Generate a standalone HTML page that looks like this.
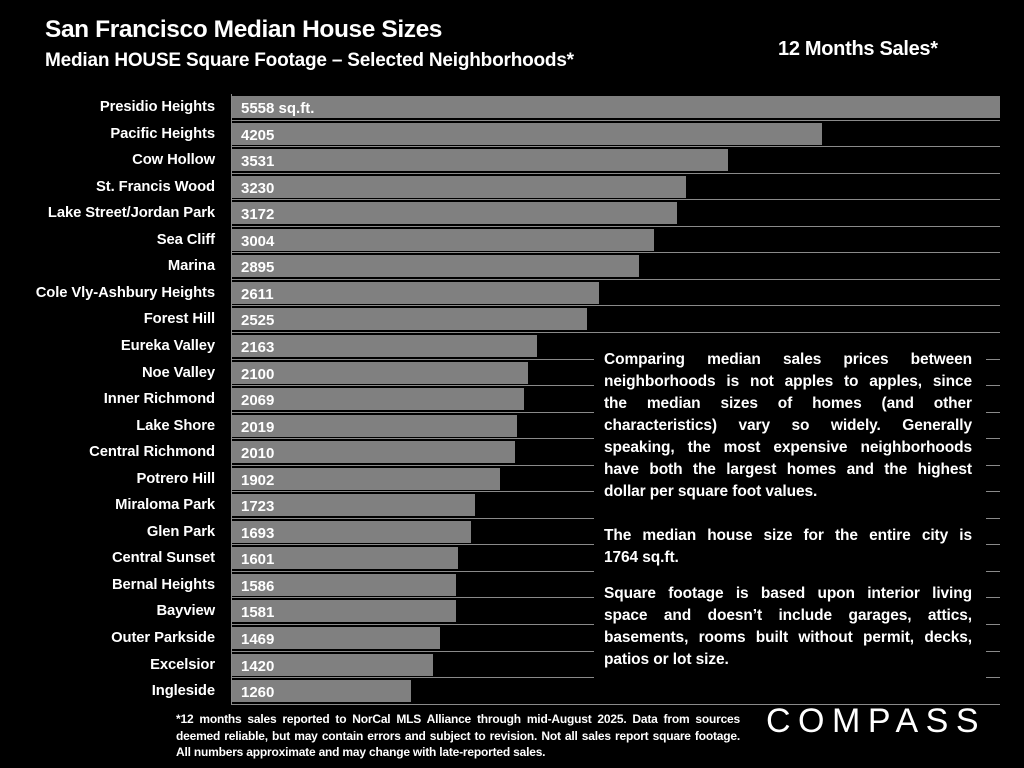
<!DOCTYPE html>
<html><head><meta charset="utf-8">
<style>
body{margin:0;background:#000;width:1024px;height:768px;overflow:hidden;font-family:"Liberation Sans",Arial,sans-serif;color:#fff;font-weight:bold}
#wrap{position:relative;width:1024px;height:768px}
.t{position:absolute;white-space:nowrap}
.lab{position:absolute;right:809px;font-size:14.8px;letter-spacing:-0.1px;white-space:nowrap}
.bar{position:absolute;background:#808080}
.val{position:absolute;font-size:15px;white-space:nowrap}
.grid{position:absolute;left:231px;width:769px;height:1px;background:#8a8a8a}
#note{position:absolute;left:594px;top:345px;width:392px;height:336px;background:#000}
.ln{position:absolute;left:10px;width:368px;font-size:15.5px;letter-spacing:-0.1px;text-align:justify;text-align-last:justify;white-space:nowrap;height:20px}
.ln.l{text-align-last:left}
</style></head><body>
<div id="wrap">
<div class="t" style="left:45px;top:16px;font-size:24.5px;letter-spacing:-0.4px">San Francisco Median House Sizes</div>
<div class="t" style="left:45px;top:50px;font-size:19px;letter-spacing:-0.2px">Median HOUSE Square Footage – Selected Neighborhoods*</div>
<div class="t" style="left:778px;top:38px;font-size:20px;letter-spacing:-0.3px">12 Months Sales*</div>
<div id="chart"></div>
<div style="position:absolute;left:231px;top:94px;width:1px;height:610px;background:#8a8a8a"></div>
<div id="note">
<div class="ln" style="top:6px">Comparing median sales prices between</div>
<div class="ln" style="top:28px">neighborhoods is not apples to apples, since</div>
<div class="ln" style="top:50px">the median sizes of homes (and other</div>
<div class="ln" style="top:72px">characteristics) vary so widely. Generally</div>
<div class="ln" style="top:94px">speaking, the most expensive neighborhoods</div>
<div class="ln" style="top:116px">have both the largest homes and the highest</div>
<div class="ln l" style="top:138px">dollar per square foot values.</div>
<div class="ln" style="top:182px">The median house size for the entire city is</div>
<div class="ln l" style="top:204px">1764 sq.ft.</div>
<div class="ln" style="top:240px">Square footage is based upon interior living</div>
<div class="ln" style="top:262px">space and doesn’t include garages, attics,</div>
<div class="ln" style="top:284px">basements, rooms built without permit, decks,</div>
<div class="ln l" style="top:306px">patios or lot size.</div>
</div>
<div class="t" style="left:176px;top:711px;font-size:12px;line-height:16.5px;width:564px;white-space:normal;text-align:justify;letter-spacing:-0.2px">*12 months sales reported to NorCal MLS Alliance through mid-August 2025. Data from sources deemed reliable, but may contain errors and subject to revision. Not all sales report square footage. All numbers approximate and may change with late-reported sales.</div>
<div class="t" style="left:766px;top:702px;font-size:34px;font-weight:normal;letter-spacing:7.5px">COMPASS</div>
</div>
<script>
const categories=["Presidio Heights","Pacific Heights","Cow Hollow","St. Francis Wood","Lake Street/Jordan Park","Sea Cliff","Marina","Cole Vly-Ashbury Heights","Forest Hill","Eureka Valley","Noe Valley","Inner Richmond","Lake Shore","Central Richmond","Potrero Hill","Miraloma Park","Glen Park","Central Sunset","Bernal Heights","Bayview","Outer Parkside","Excelsior","Ingleside"];
const values=[5558,4205,3531,3230,3172,3004,2895,2611,2525,2163,2100,2069,2019,2010,1902,1723,1693,1601,1586,1581,1469,1420,1260];
const x0=235,scale=0.1395,xMax=1000,y0=94,rowH=26.55,barH=22;
function xPos(v){return Math.min(xMax,x0+v*scale);}
function yPos(i){return y0+i*rowH;}
const c=document.getElementById('chart');
for(let i=1;i<=categories.length;i++){
 const g=document.createElement('div');g.className='grid';
 
 
 g.style.top=(yPos(i)-1)+'px';c.appendChild(g);
}
categories.forEach((name,i)=>{
 const y=yPos(i);
 const l=document.createElement('div');l.className='lab';
 
 
 l.style.top=(y+5)+'px';l.textContent=name;c.appendChild(l);
 const b=document.createElement('div');b.className='bar';
 
 
 b.style.left='232px';b.style.top=(y+2)+'px';b.style.height=barH+'px';b.style.width=(xPos(values[i])-232)+'px';c.appendChild(b);
 const v=document.createElement('div');v.className='val';
 
 
 v.style.left='241px';v.style.top=(y+6)+'px';v.textContent=values[i]+(i===0?' sq.ft.':'');c.appendChild(v);
});
</script>
</body></html>
